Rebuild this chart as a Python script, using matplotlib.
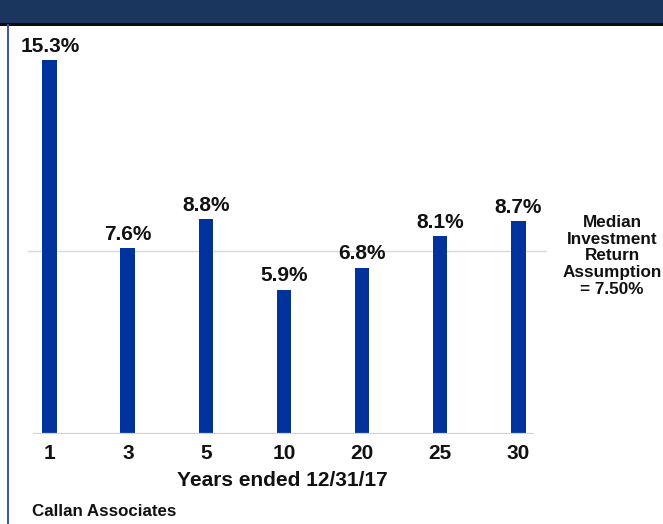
import matplotlib
matplotlib.use("Agg")
import matplotlib.pyplot as plt
from matplotlib.patches import Rectangle
from matplotlib.lines import Line2D

# Annualized returns by trailing period
periods = ["1", "3", "5", "10", "20", "25", "30"]
returns = [15.3, 7.6, 8.8, 5.9, 6.8, 8.1, 8.7]
assumption = 7.50
xlabel = "Years ended 12/31/17"
source = "Callan Associates"
note_lines = ["Median", "Investment", "Return", "Assumption", "= 7.50%"]

W, H, DPI = 663, 524, 100
plt.rcParams["font.family"] = ["Liberation Sans", "DejaVu Sans"]
plt.rcParams["font.weight"] = "bold"

fig = plt.figure(figsize=(W / DPI, H / DPI), dpi=DPI)
fig.patch.set_facecolor("white")

# Header band and frame
fig.add_artist(Rectangle((0, 1 - 23 / H), 1, 23 / H, transform=fig.transFigure,
                         facecolor="#1a365f", edgecolor="none"))
fig.add_artist(Rectangle((0, 1 - 25.5 / H), 1, 2.5 / H, transform=fig.transFigure,
                         facecolor="#0a0a0a", edgecolor="none"))
fig.add_artist(Line2D([7.5 / W, 7.5 / W], [0, 1 - 25 / H], transform=fig.transFigure,
                      color="#3556b0", lw=1.4))

# Axes placement in pixels
left_px, right_px = 28, 547
base_px, top_px = 434, 38
ax = fig.add_axes([left_px / W, (H - base_px) / H,
                   (right_px - left_px) / W, (base_px - top_px) / H])
ax.set_xlim(-0.28, 6.37)
ax.set_ylim(0, (base_px - top_px) / 24.44)
for s in ax.spines.values():
    s.set_visible(False)
ax.set_yticks([])

x = list(range(len(periods)))
bar_color = "#02339c"

# Reference line for the assumed return
ax.axhline(assumption, color="#d6d9de", lw=1.0, zorder=1)
# Baseline
ax.hlines(0, -0.22, 6.2, color="#c9d3e6", lw=1.6, zorder=3)

ax.bar(x, returns, width=0.19, color=bar_color, zorder=2)

for xi, v in zip(x, returns):
    ax.annotate(f"{v:.1f}%", (xi, v), xytext=(0, 6), textcoords="offset points",
                ha="center", va="baseline", fontsize=15, fontweight="bold",
                color="#111111")

ax.set_xticks(x)
ax.set_xticklabels(periods, fontsize=15, fontweight="bold", color="#111111")
ax.tick_params(axis="x", length=0, pad=7)

fig.text(282 / W, 1 - 481 / H, xlabel, ha="center", va="center",
         fontsize=15, fontweight="bold", color="#111111")
fig.text(32 / W, 1 - 512 / H, source, ha="left", va="center",
         fontsize=12.2, fontweight="bold", color="#111111")

fig.text(612 / W, 1 - 256 / H, "\n".join(note_lines), ha="center", va="center",
         fontsize=12.3, fontweight="bold", color="#111111", linespacing=1.13)

fig.savefig("out.png", dpi=DPI, facecolor="white")
